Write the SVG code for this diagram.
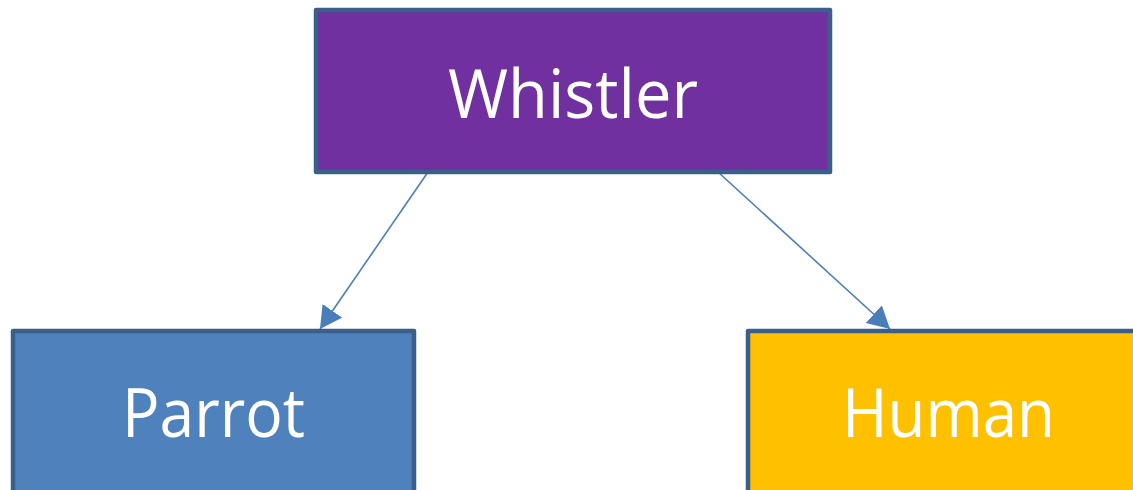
<svg xmlns="http://www.w3.org/2000/svg" width="1133" height="490" viewBox="0 0 1133 490">
<defs>
<style>
.box{stroke:#3A5F8B;stroke-width:4.5;stroke-linejoin:round}
.lbl{font-family:"Open Sans","Noto Sans",sans-serif;font-size:68px;fill:#FFFFFF;text-anchor:middle}
.conn{stroke:#4A7EBB;stroke-width:1.6;fill:none}
</style>
<marker id="arr" viewBox="0 0 22 24" refX="22" refY="12" markerWidth="22" markerHeight="24" markerUnits="userSpaceOnUse" orient="auto">
<path d="M0,0 L22,12 L0,24 Z" fill="#4A7EBB"/>
</marker>
</defs>
<rect width="1133" height="490" fill="#FFFFFF"/>
<g id="connectors">
<line class="conn" x1="428" y1="172" x2="320" y2="329" marker-end="url(#arr)"/>
<line class="conn" x1="718" y1="172" x2="890" y2="329" marker-end="url(#arr)"/>
</g>
<g id="whistler">
<rect class="box" x="316" y="10" width="514" height="162" fill="#7030A0"/>
<text class="lbl" x="573" y="118" textLength="250" lengthAdjust="spacingAndGlyphs">Whistler</text>
</g>
<g id="parrot">
<rect class="box" x="13" y="331" width="401" height="170" fill="#4F81BD"/>
<text class="lbl" x="213.5" y="437" textLength="183" lengthAdjust="spacingAndGlyphs">Parrot</text>
</g>
<g id="human">
<rect class="box" x="748" y="331" width="401" height="170" fill="#FFC000"/>
<text class="lbl" x="948.5" y="437" textLength="213" lengthAdjust="spacingAndGlyphs">Human</text>
</g>
</svg>
